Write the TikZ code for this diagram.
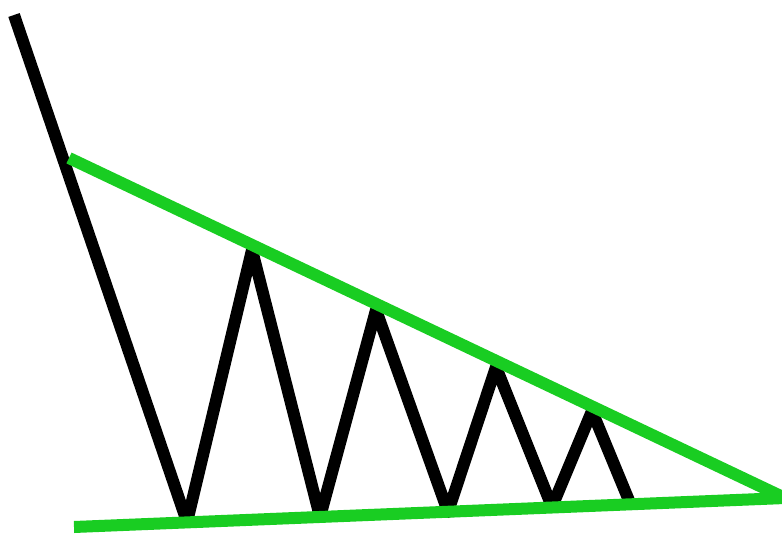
\documentclass[tikz,border=0pt]{standalone}
\usepackage{tikz}
\definecolor{Trend}{RGB}{25,205,34}
\tikzset{
pricepath/.style={draw=black, line width=12pt, line join=round, line cap=butt},
trendline/.style={draw=Trend, line width=12pt, line join=miter, line cap=butt}
}

\begin{document}
\begin{tikzpicture}[x=1pt, y=-1pt]
  \useasboundingbox (0,0) rectangle (782,533);
  % apex where the two trend lines meet
  \coordinate (apex) at (785,498);
  \coordinate (upperstart) at (69,158);
  \coordinate (lowerstart) at (74,527);
  % price swings, narrowing to the right
  \draw[pricepath] (14,15) -- (187,522) -- (252,250) -- (320,517) -- (376,310)
    -- (448,512) -- (496,367) -- (552,507) -- (592,411) -- (630,503);
  \draw[trendline] (upperstart) -- (apex) -- (lowerstart);
\end{tikzpicture}
\end{document}
